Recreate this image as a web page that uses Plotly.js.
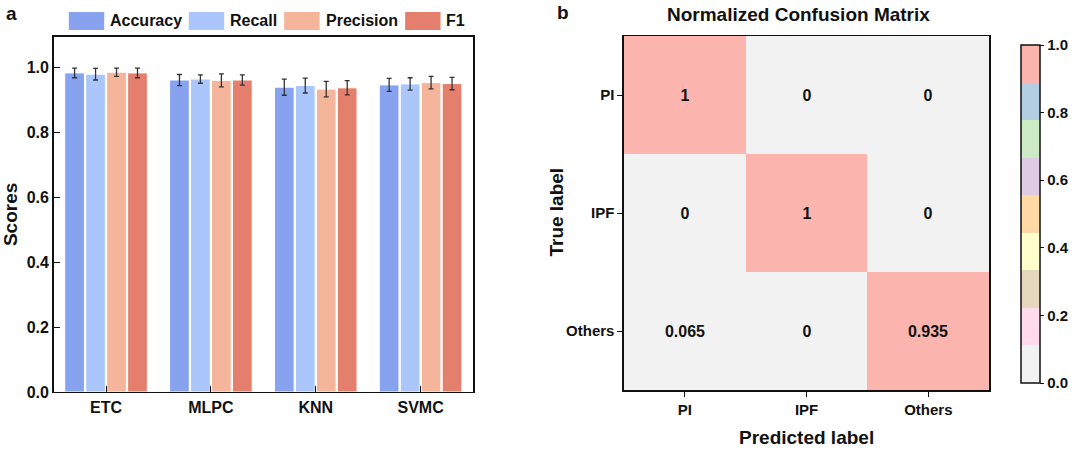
<!DOCTYPE html>
<html>
<head>
<meta charset="utf-8">
<script src="https://cdn.plot.ly/plotly-3.0.1.min.js"></script>
<style>html,body{margin:0;padding:0;background:#fff}#chart{width:1080px;height:450px}</style>
</head>
<body>
<div id="chart"></div>
<script>
// ---- Panel a: classifier scores ----
const models = ["ETC", "MLPC", "KNN", "SVMC"];
const metricNames = ["Accuracy", "Recall", "Precision", "F1"];
const metricColors = ["#87a2ee", "#abc6fb", "#f5b59b", "#e47f6d"];
const accuracy = [0.984, 0.962, 0.940, 0.947];
const accuracyErr = [0.015, 0.017, 0.025, 0.020];
const recall = [0.980, 0.965, 0.945, 0.950];
const recallErr = [0.018, 0.013, 0.023, 0.019];
const precision = [0.986, 0.961, 0.934, 0.954];
const precisionErr = [0.013, 0.020, 0.024, 0.019];
const f1 = [0.984, 0.962, 0.938, 0.951];
const f1Err = [0.015, 0.016, 0.022, 0.019];
const scoreTicks = [0, 0.2, 0.4, 0.6, 0.8, 1.0];

// ---- Panel b: normalized confusion matrix ----
const predictedLabels = ["PI", "IPF", "Others"];
const trueLabels = ["PI", "IPF", "Others"];
const confusion = [
  [1, 0, 0],
  [0, 1, 0],
  [0.065, 0, 0.935]
];
const colorbarTicks = [0, 0.2, 0.4, 0.6, 0.8, 1.0];
const pastelColors = ["#f2f2f2", "#fddaec", "#e5d8bd", "#ffffcc", "#fed9a6", "#decbe4", "#ccebc5", "#b3cde3", "#fbb4ae"];

const FONT = "Arial, 'Liberation Sans', sans-serif";
const INK = "#111111";

function barTrace(i, vals, errs) {
  return {
    type: "bar", name: metricNames[i], x: models, y: vals,
    xaxis: "x", yaxis: "y", showlegend: false,
    marker: {color: metricColors[i], line: {color: "#ffffff", width: 1}},
    error_y: {type: "data", array: errs, visible: true, color: "#333333", thickness: 1.3, width: 2.5}
  };
}

const steps = [];
pastelColors.forEach((c, i) => {
  steps.push([i / pastelColors.length, c]);
  steps.push([(i + 1) / pastelColors.length, c]);
});

const traces = [
  barTrace(0, accuracy, accuracyErr),
  barTrace(1, recall, recallErr),
  barTrace(2, precision, precisionErr),
  barTrace(3, f1, f1Err),
  {
    type: "heatmap", x: predictedLabels, y: trueLabels, z: confusion,
    xaxis: "x2", yaxis: "y2",
    zmin: 0, zmax: 1, colorscale: steps, showlegend: false,
    texttemplate: "%{z}", textfont: {family: FONT, size: 16, color: INK, weight: "bold"},
    colorbar: {
      x: 0.952, xanchor: "left", y: 0.5244, yanchor: "middle",
      len: 0.796, lenmode: "fraction", thickness: 19,
      outlinewidth: 1.5, outlinecolor: INK,
      tickvals: colorbarTicks, tickformat: ".1f", ticks: "outside", ticklen: 4,
      tickcolor: INK, tickfont: {family: FONT, size: 15, color: INK, weight: "bold"}
    }
  }
];

// Legend drawn as big swatches (paper coordinates) with text labels
const legendSwatchX = [70, 192, 289, 412];
const shapes = [];
const annotations = [];
metricNames.forEach((n, i) => {
  shapes.push({
    type: "rect", xref: "paper", yref: "paper",
    x0: legendSwatchX[i] / 1080, x1: (legendSwatchX[i] + 36) / 1080,
    y0: 1 - 30 / 450, y1: 1 - 12 / 450,
    fillcolor: metricColors[i], line: {width: 0}
  });
  annotations.push({
    text: n, xref: "paper", yref: "paper", showarrow: false,
    x: (legendSwatchX[i] + 40) / 1080, y: 1 - 21 / 450,
    xanchor: "left", yanchor: "middle",
    font: {family: FONT, size: 16, weight: "bold", color: INK}
  });
});
annotations.push(
  {text: "a", x: 12 / 1080, y: 1 - 14 / 450, xref: "paper", yref: "paper", showarrow: false,
   xanchor: "center", yanchor: "middle", font: {family: FONT, size: 19, weight: "bold", color: INK}},
  {text: "b", x: 573 / 1080, y: 1 - 13 / 450, xref: "paper", yref: "paper", showarrow: false,
   xanchor: "center", yanchor: "middle", font: {family: FONT, size: 19, weight: "bold", color: INK}},
  {text: "Normalized Confusion Matrix", x: 812 / 1080, y: 1 - 15 / 450, xref: "paper", yref: "paper", showarrow: false,
   xanchor: "center", yanchor: "middle", font: {family: FONT, size: 19, weight: "bold", color: INK}},
  {text: "True label", x: 566 / 1080, y: 1 - 212 / 450, xref: "paper", yref: "paper", showarrow: false,
   textangle: -90, xanchor: "center", yanchor: "middle", font: {family: FONT, size: 19, weight: "bold", color: INK}}
);

const layout = {
  width: 1080, height: 450,
  margin: {l: 0, r: 0, t: 0, b: 0},
  paper_bgcolor: "#fff", plot_bgcolor: "#fff",
  font: {family: FONT, color: INK},
  barmode: "group", bargap: 0.2, bargroupgap: 0.06,
  showlegend: false,
  xaxis: {
    domain: [0.0505, 0.4454], range: [-0.5, 3.5],
    showline: true, linecolor: INK, linewidth: 1.5, mirror: true,
    ticks: "inside", ticklen: 6, tickcolor: INK,
    tickfont: {family: FONT, size: 16, weight: "bold", color: INK},
    showgrid: false, zeroline: false
  },
  yaxis: {
    domain: [0.129, 0.918], range: [0, 1.095],
    tickvals: scoreTicks, tickformat: ".1f",
    showline: true, linecolor: INK, linewidth: 1.5, mirror: true,
    ticks: "inside", ticklen: 6, tickcolor: INK,
    tickfont: {family: FONT, size: 16, weight: "bold", color: INK},
    showgrid: false, zeroline: false,
    title: {text: "Scores", font: {family: FONT, size: 19, weight: "bold", color: INK}, standoff: 6}
  },
  xaxis2: {
    domain: [0.5875, 0.9315], anchor: "y2",
    showline: true, linecolor: INK, linewidth: 1.5, mirror: true,
    ticks: "outside", ticklen: 5, tickcolor: INK,
    tickfont: {family: FONT, size: 15, weight: "bold", color: INK},
    showgrid: false, zeroline: false,
    title: {text: "Predicted label", font: {family: FONT, size: 19, weight: "bold", color: INK}, standoff: 14}
  },
  yaxis2: {
    domain: [0.1333, 0.92], anchor: "x2", autorange: "reversed",
    showline: true, linecolor: INK, linewidth: 1.5, mirror: true,
    ticks: "outside", ticklen: 5, tickcolor: INK,
    tickfont: {family: FONT, size: 15, weight: "bold", color: INK},
    showgrid: false, zeroline: false
  },
  shapes: shapes,
  annotations: annotations
};

Plotly.newPlot("chart", traces, layout, {displayModeBar: false, staticPlot: true});
</script>
</body>
</html>
